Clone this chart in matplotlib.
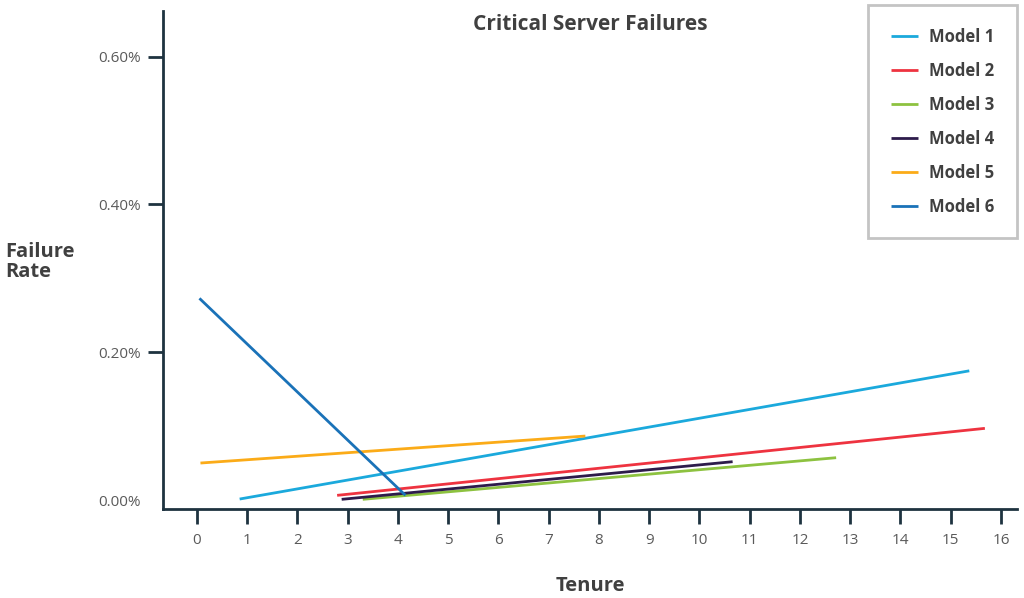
import matplotlib
matplotlib.use("Agg")
from matplotlib import pyplot as plt
from matplotlib.ticker import FuncFormatter

# each model's trend line: (start tenure, end tenure), (start rate %, end rate %)
models = ["Model 1", "Model 2", "Model 3", "Model 4", "Model 5", "Model 6"]
tenure = [
    [0.85, 15.37],
    [2.79, 15.68],
    [3.30, 12.72],
    [2.88, 10.66],
    [0.07, 7.73],
    [0.05, 4.15],
]
rate = [
    [0.0016, 0.175],
    [0.0066, 0.0972],
    [0.0012, 0.0575],
    [0.0012, 0.0521],
    [0.0503, 0.0868],
    [0.273, 0.0066],
]
colors = ["#1ba9dc", "#ee3340", "#8dc240", "#2d1b4b", "#fbab18", "#1a72b8"]

x_ticks = list(range(0, 17))
y_ticks = [0.0, 0.2, 0.4, 0.6]

plt.rcParams["font.family"] = ["Open Sans", "DejaVu Sans"]
spine_col = "#1e3340"
text_col = "#404040"

fig = plt.figure(figsize=(10.24, 5.98), dpi=100)
ax = fig.add_axes([0.1592, 0.1483, 0.834, 0.8325])

for name, xs, ys, c in zip(models, tenure, rate, colors):
  ax.plot(xs, ys, color=c, lw=2, label=name, solid_capstyle="butt")

ax.set_xlim(-0.675, 16.32)
ax.set_ylim(-0.0123, 0.661)
ax.set_xticks(x_ticks)
ax.set_yticks(y_ticks)
ax.yaxis.set_major_formatter(FuncFormatter(lambda v, p: "%.2f%%" % v))

for s in ["top", "right"]:
  ax.spines[s].set_visible(False)
for s in ["left", "bottom"]:
  ax.spines[s].set_color(spine_col)
  ax.spines[s].set_linewidth(2)

ax.tick_params(axis="both", direction="out", length=11, width=2, color=spine_col,
               labelcolor="#5a5a5a", labelsize=11)
ax.tick_params(axis="x", pad=6)
ax.tick_params(axis="y", pad=5)
ax.yaxis.get_major_ticks()[0].tick1line.set_visible(False)

fig.text(590 / 1024, 1 - 24 / 598, "Critical Server Failures", ha="center", va="center",
         fontsize=15, fontweight="bold", color=text_col)
fig.text(590 / 1024, 1 - 586 / 598, "Tenure", ha="center", va="center",
         fontsize=14.5, fontweight="bold", color=text_col)
fig.text(5 / 1024, 1 - 262 / 598, "Failure\nRate", ha="left", va="center",
         fontsize=14.5, fontweight="bold", color=text_col, linespacing=1.0)

leg = fig.legend(loc="upper right", bbox_to_anchor=(1017 / 1024, 1 - 5 / 598),
                 borderaxespad=0, prop={"weight": "bold", "size": 12},
                 labelspacing=0.96, handlelength=1.6, handletextpad=0.7,
                 borderpad=1.35, fancybox=False, framealpha=1, edgecolor="#c4c4c4")
leg.get_frame().set_linewidth(2)
for t in leg.get_texts():
  t.set_color(text_col)

fig.savefig("out.png", dpi=100)
